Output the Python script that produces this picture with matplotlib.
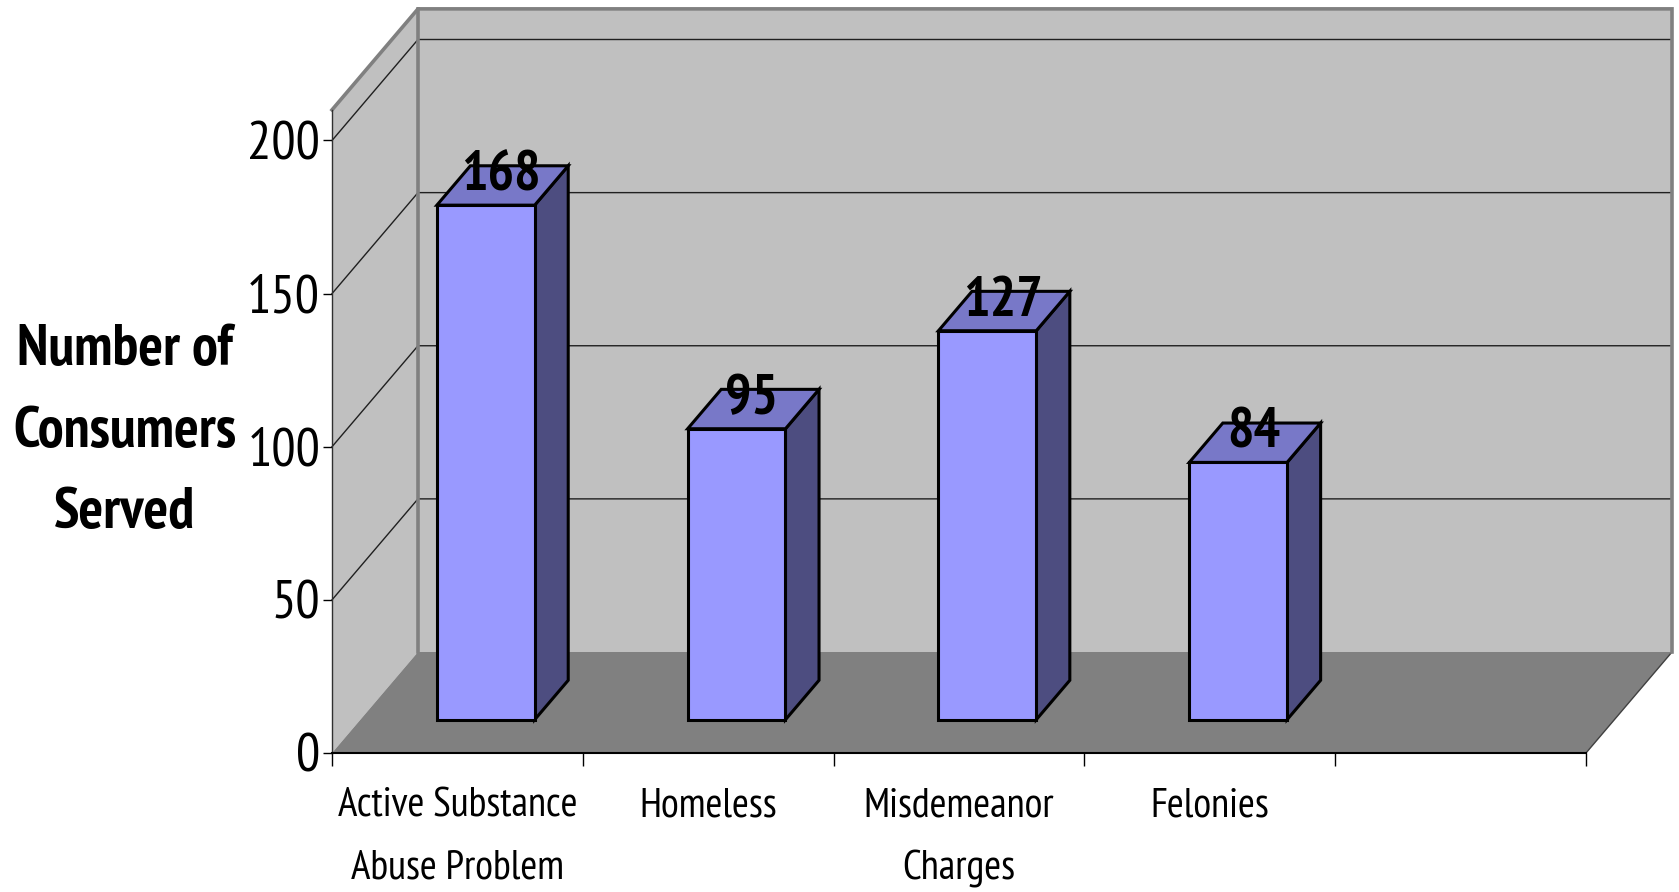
import matplotlib
matplotlib.use("Agg")
import matplotlib.pyplot as plt
from matplotlib.patches import Polygon
from matplotlib.lines import Line2D

# ---------------- data ----------------
categories = ["Active Substance\nAbuse Problem", "Homeless", "Misdemeanor\nCharges", "Felonies"]
values = [168, 95, 127, 84]
n_slots = 5                      # category axis has one empty slot at the end
y_ticks = [0, 50, 100, 150, 200]
y_max = 210
y_label = "Number of\nConsumers\nServed"

# ---------------- style ----------------
FONT = ["PT Sans Narrow", "Liberation Sans", "DejaVu Sans"]
plt.rcParams["font.family"] = FONT

W, H = 1679, 892
fig = plt.figure(figsize=(W / 100, H / 100), dpi=100)
fig.patch.set_facecolor("white")

# front plane box in pixels
px0, px1 = 332, 1586
py0 = 753                      # pixel y of value 0 (front)
ppu = 3.0625                   # pixels per value unit
ax = fig.add_axes([px0 / W, (H - py0) / H, (px1 - px0) / W, y_max * ppu / H])
ax.set_xlim(0, n_slots)
ax.set_ylim(0, y_max)
ax.patch.set_alpha(0)

# depth offset (full depth) in data units
DX = 86 / ((px1 - px0) / n_slots)
DY = 101 / ppu


def P(x, v, d):
    return (x + d * DX, v + d * DY)


wall_c = "#C0C0C0"
floor_c = "#808080"
edge_c = "#808080"

# left wall
ax.add_patch(Polygon([P(0, 0, 0), P(0, y_max, 0), P(0, y_max, 1), P(0, 0, 1)],
                     closed=True, facecolor=wall_c, edgecolor="none", clip_on=False, zorder=1))
# back wall
ax.add_patch(Polygon([P(0, 0, 1), P(0, y_max, 1), P(n_slots, y_max, 1), P(n_slots, 0, 1)],
                     closed=True, facecolor=wall_c, edgecolor="none", clip_on=False, zorder=1))
# floor
ax.add_patch(Polygon([P(0, 0, 0), P(n_slots, 0, 0), P(n_slots, 0, 1), P(0, 0, 1)],
                     closed=True, facecolor=floor_c, edgecolor="none", clip_on=False, zorder=1.2))
# floor right edge
xs, ys = zip(P(n_slots, 0, 0), P(n_slots, 0, 1))
ax.add_line(Line2D(xs, ys, color="#404040", lw=1.0, clip_on=False, zorder=1.3))

# gridlines
for v in y_ticks[1:]:
    xs, ys = zip(P(0, v, 0), P(0, v, 1), P(n_slots, v, 1))
    ax.add_line(Line2D(xs, ys, color="#202020", lw=1.0, clip_on=False, zorder=1.5))

# wall borders
for seg in ([P(0, y_max, 0), P(0, y_max, 1), P(n_slots, y_max, 1), P(n_slots, 0, 1)],
            [P(0, y_max, 1), P(0, 0, 1)]):
    xs, ys = zip(*seg)
    ax.add_line(Line2D(xs, ys, color=edge_c, lw=2.6, clip_on=False, zorder=1.6,
                       solid_joinstyle="miter"))

# bars
d0, d1 = 0.33, 0.72
bw = 0.39
front_c, top_c, side_c = "#9999FF", "#7878C8", "#4D4D80"
for i, v in enumerate(values):
    x0 = i + 0.5 - bw / 2
    x1 = i + 0.5 + bw / 2
    kw = dict(closed=True, edgecolor="black", lw=2.2, joinstyle="miter", clip_on=False, zorder=3)
    ax.add_patch(Polygon([P(x1, 0, d0), P(x1, 0, d1), P(x1, v, d1), P(x1, v, d0)], facecolor=side_c, **kw))
    ax.add_patch(Polygon([P(x0, v, d0), P(x1, v, d0), P(x1, v, d1), P(x0, v, d1)], facecolor=top_c, **kw))
    ax.add_patch(Polygon([P(x0, 0, d0), P(x1, 0, d0), P(x1, v, d0), P(x0, v, d0)], facecolor=front_c, **kw))
    ax.annotate(str(v), xy=P(i + 0.5, v, (d0 + d1) / 2), xytext=(-1, 7), textcoords="offset points",
                ha="center", va="center", fontsize=40, fontweight="bold", color="black",
                annotation_clip=False, zorder=4)

# spines & ticks
for s in ("top", "right"):
    ax.spines[s].set_visible(False)
ax.spines["left"].set_color("#303030")
ax.spines["left"].set_linewidth(1.0)
ax.spines["bottom"].set_color("black")
ax.spines["bottom"].set_linewidth(1.5)
ax.spines["left"].set_zorder(1.7)
ax.spines["bottom"].set_zorder(1.7)

ax.set_yticks(y_ticks)
ax.set_yticklabels([str(t) for t in y_ticks])
ax.tick_params(axis="y", direction="out", length=6.5, width=1, pad=2, labelsize=39, colors="black")

ax.set_xticks(range(n_slots + 1))
ax.set_xticklabels([""] * (n_slots + 1))
ax.set_xticks([i + 0.5 for i in range(len(categories))], minor=True)
ax.set_xticklabels(categories, minor=True)
ax.tick_params(axis="x", which="major", direction="out", length=9, width=1)
ax.tick_params(axis="x", which="minor", length=0, pad=25, labelsize=29.5)
for t in ax.get_xticklabels(minor=True):
    t.set_linespacing(1.84)

fig.text(125 / W, 1 - 432 / H, y_label, ha="center", va="center", fontsize=41.8,
         fontweight="bold", linespacing=1.7, multialignment="center")

fig.savefig("out.png", dpi=100, facecolor="white")
